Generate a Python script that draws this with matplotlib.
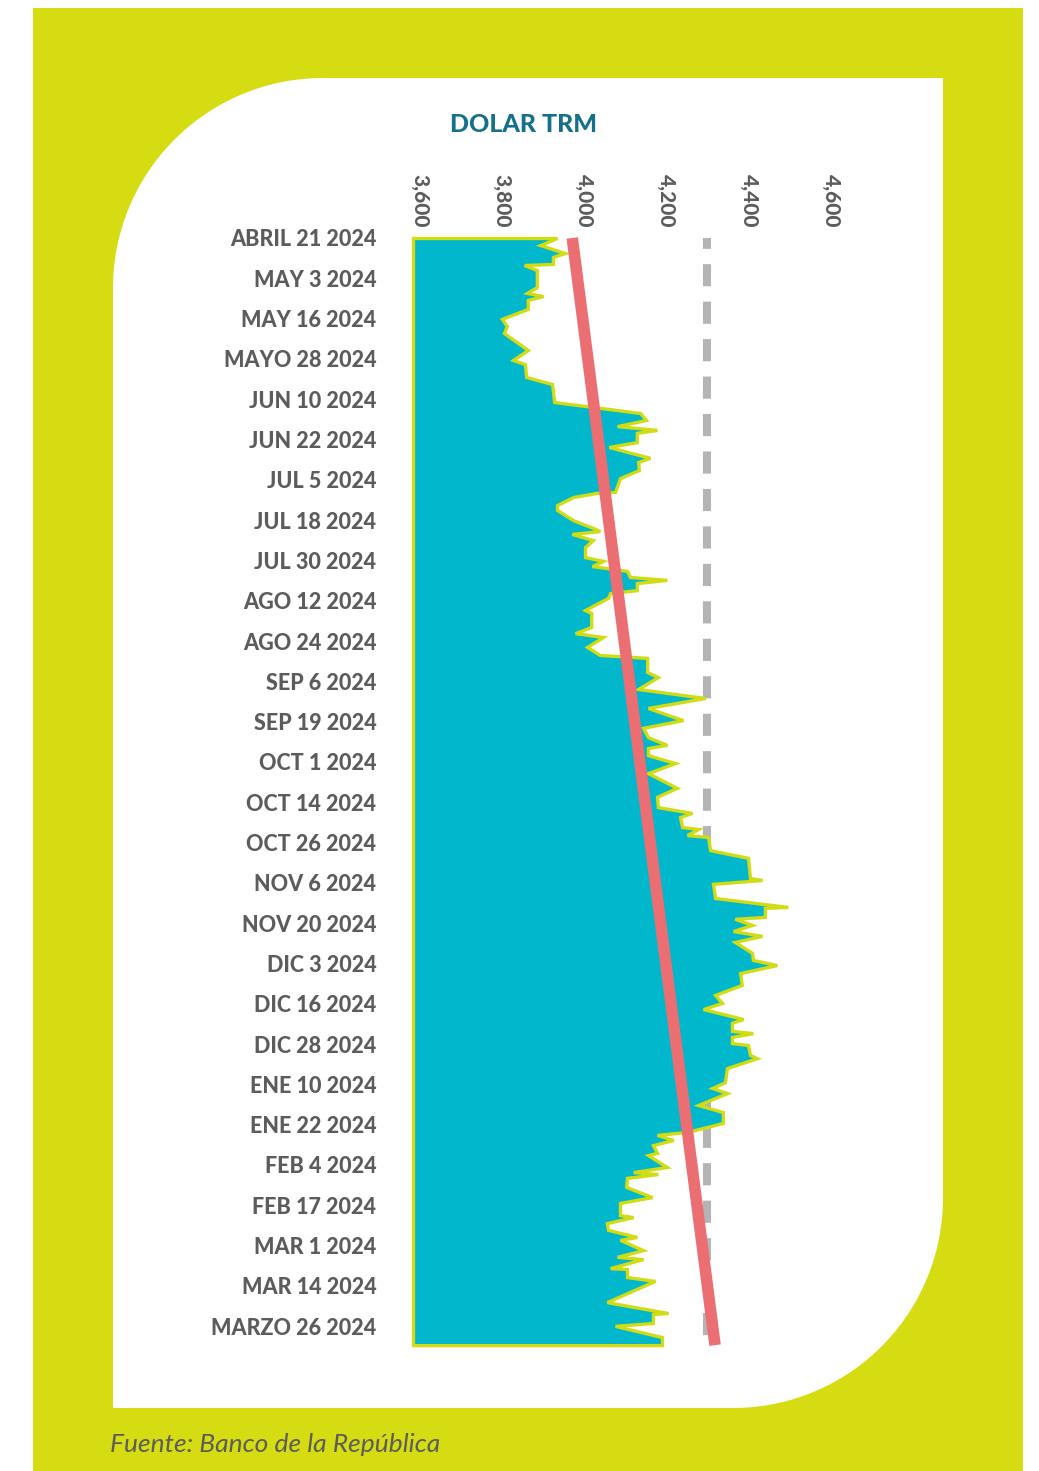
import numpy as np
import matplotlib
matplotlib.use("Agg")
import matplotlib.pyplot as plt
from matplotlib.patches import Rectangle, Polygon

# ---------------- data ----------------
title = "DOLAR TRM"
source = "Fuente: Banco de la República"
date_labels = ["ABRIL 21 2024", "MAY 3 2024", "MAY 16 2024", "MAYO 28 2024",
               "JUN 10 2024", "JUN 22 2024", "JUL 5 2024", "JUL 18 2024",
               "JUL 30 2024", "AGO 12 2024", "AGO 24 2024", "SEP 6 2024",
               "SEP 19 2024", "OCT 1 2024", "OCT 14 2024", "OCT 26 2024",
               "NOV 6 2024", "NOV 20 2024", "DIC 3 2024", "DIC 16 2024",
               "DIC 28 2024", "ENE 10 2024", "ENE 22 2024", "FEB 4 2024",
               "FEB 17 2024", "MAR 1 2024", "MAR 14 2024", "MARZO 26 2024"]
label_days = np.linspace(0, 339, len(date_labels))   # days after Apr 21 2024
x_ticks = [3600, 3800, 4000, 4200, 4400, 4600]
x_ticklabels = ["3,600", "3,800", "4,000", "4,200", "4,400", "4,600"]

# day offset (from Apr 21 2024) and TRM value (COP per USD)
days = [0, 2.2, 4.7, 5.9, 8.1, 8.4, 10.0, 15.3, 17.1, 18.1,
        19.3, 22.1, 25.2, 27.4, 29.6, 34.9, 38.0, 39.3, 43.3, 45.5,
        51.1, 54.5, 56.7, 58.6, 59.8, 60.7, 63.6, 65.1, 68.5, 69.8,
        72.3, 74.8, 79.1, 79.4, 80.7, 83.2, 84.7, 87.9, 90.3, 91.3,
        92.2, 94.1, 96.3, 99.4, 100.6, 102.2, 103.7, 105.6, 106.5, 107.5,
        109.7, 110.6, 112.1, 115.9, 116.8, 121.2, 123.1, 124.3, 127.4, 129.9,
        130.8, 135.2, 136.8, 140.5, 143.3, 146.4, 150.2, 152.6, 155.5, 157.9,
        158.9, 161.1, 163.6, 166.7, 171.3, 174.1, 177.3, 179.1, 180.4, 183.5,
        184.1, 186.0, 186.6, 190.7, 193.1, 199.4, 200.0, 201.2, 205.6, 208.4,
        208.7, 211.5, 212.1, 214.0, 215.9, 217.4, 219.3, 222.7, 224.9, 226.5,
        229.0, 232.7, 235.8, 238.3, 240.2, 243.3, 244.5, 247.0, 247.7, 248.9,
        250.8, 251.4, 254.5, 255.5, 258.6, 263.0, 264.8, 266.4, 270.1, 272.3,
        275.7, 278.5, 279.4, 281.0, 282.6, 285.0, 285.7, 289.4, 291.0, 291.6,
        292.8, 295.6, 298.8, 300.6, 304.4, 305.0, 306.9, 309.0, 311.2, 312.1,
        315.3, 317.4, 318.1, 320.9, 321.2, 323.7, 324.9, 331.5, 334.9, 335.2,
        338.0, 338.9, 342.4, 344.9]
trm = [3933, 3892, 3952, 3923, 3923, 3853, 3884, 3884, 3860, 3899,
       3862, 3862, 3799, 3811, 3804, 3862, 3826, 3855, 3858, 3921,
       3926, 4135, 4149, 4079, 4176, 4127, 4127, 4059, 4159, 4130,
       4132, 4086, 4074, 4030, 3972, 3933, 3933, 3972, 4020, 4037,
       3969, 4020, 4001, 4001, 4045, 4018, 4103, 4110, 4200, 4127,
       4127, 4062, 4057, 4001, 4016, 4016, 3977, 4045, 4006, 4037,
       4152, 4152, 4178, 4130, 4293, 4154, 4239, 4142, 4154, 4200,
       4154, 4154, 4220, 4154, 4224, 4176, 4178, 4261, 4232, 4237,
       4276, 4249, 4300, 4305, 4397, 4402, 4431, 4312, 4317, 4494,
       4438, 4438, 4365, 4407, 4361, 4431, 4365, 4407, 4409, 4467,
       4378, 4382, 4317, 4334, 4288, 4385, 4358, 4358, 4409, 4358,
       4358, 4397, 4402, 4419, 4346, 4341, 4310, 4346, 4276, 4336,
       4336, 4249, 4176, 4215, 4166, 4176, 4154, 4200, 4118, 4178,
       4103, 4101, 4164, 4086, 4086, 4118, 4054, 4057, 4127, 4086,
       4142, 4079, 4142, 4062, 4103, 4103, 4171, 4054, 4203, 4166,
       4166, 4074, 4188, 4188]
area_base = 3583          # left edge of the filled area
trend_values = [3970, 4317]  # red trend line, first and last day
reference_value = 4297    # grey dashed line

# ---------------- style ----------------
YELLOW = "#d6dc12"
CYAN = "#00b7cc"
EDGE = "#d2dc14"
RED = "#eb6e73"
GREY = "#b4b4b4"
TEXT = "#5c5c5c"
TEAL = "#15708a"
FONT = "Lato"

W, H = 1039, 1471
fig = plt.figure(figsize=(W / 100, H / 100), dpi=100)
fig.patch.set_facecolor("white")

# background drawing in pixel coordinates
bg = fig.add_axes([0, 0, 1, 1], zorder=0)
bg.set_xlim(0, W)
bg.set_ylim(H, 0)
bg.axis("off")
bg.add_patch(Rectangle((33, 8), 990, H - 8, facecolor=YELLOW, edgecolor="none"))

L, T, R, B = 113, 78, 943, 1408
r1, r2 = 210, 210
pts = [(L + r1, T), (R, T), (R, B - r2)]
th = np.linspace(0, np.pi / 2, 40)
cx, cy = R - r2, B - r2
pts += [(cx + r2 * np.cos(t), cy + r2 * np.sin(t)) for t in th]
pts += [(L, B), (L, T + r1)]
th = np.linspace(np.pi, 1.5 * np.pi, 40)
cx, cy = L + r1, T + r1
pts += [(cx + r1 * np.cos(t), cy + r1 * np.sin(t)) for t in th]
bg.add_patch(Polygon(pts, closed=True, facecolor="white", edgecolor="none"))

bg.text(524, 124, title, ha="center", va="center", color=TEAL,
        fontsize=18, fontweight="black", family=FONT)
bg.text(110, 1445, source, ha="left", va="center", color=TEXT,
        fontsize=19, fontstyle="italic", family=FONT)

# main chart axes (pixel box: x 400..860, y 232..1360)
ax_l, ax_r, ax_t, ax_b = 400, 860, 232, 1360
ax = fig.add_axes([ax_l / W, (H - ax_b) / H, (ax_r - ax_l) / W, (ax_b - ax_t) / H], zorder=1)
ax.patch.set_visible(False)
px_per_val = 82.3 / 200.0
px_per_day = 3.21
ax.set_xlim(3600 + (ax_l - 420) / px_per_val, 3600 + (ax_r - 420) / px_per_val)
ax.set_ylim((ax_b - 238) / px_per_day, (ax_t - 238) / px_per_day)

d = np.array(days)
v = np.array(trm)
ax.plot([reference_value, reference_value], [d[0], d[-1]], color=GREY, lw=5.8,
        linestyle=(1.4, (2.75, 1.9)), solid_capstyle="butt", dash_capstyle="butt", zorder=1)
ax.fill_betweenx(d, area_base, v, facecolor=CYAN, edgecolor=EDGE, linewidth=2.4,
                 zorder=2, joinstyle="miter")
ax.plot(trend_values, [d[0], d[-1]], color=RED, lw=8.3, solid_capstyle="butt", zorder=3)

for s in ax.spines.values():
    s.set_visible(False)
ax.xaxis.tick_top()
ax.set_xticks(x_ticks)
ax.set_xticklabels(x_ticklabels, rotation=-90, fontsize=15, fontweight="black",
                   color=TEXT, family=FONT)
ax.tick_params(axis="x", length=0, pad=3)
ax.set_yticks(label_days)
ax.set_yticklabels(date_labels, fontsize=15.5, fontweight="black", color=TEXT, family=FONT)
ax.tick_params(axis="y", length=0, pad=17)

fig.savefig("out.png", dpi=100, facecolor="white")
